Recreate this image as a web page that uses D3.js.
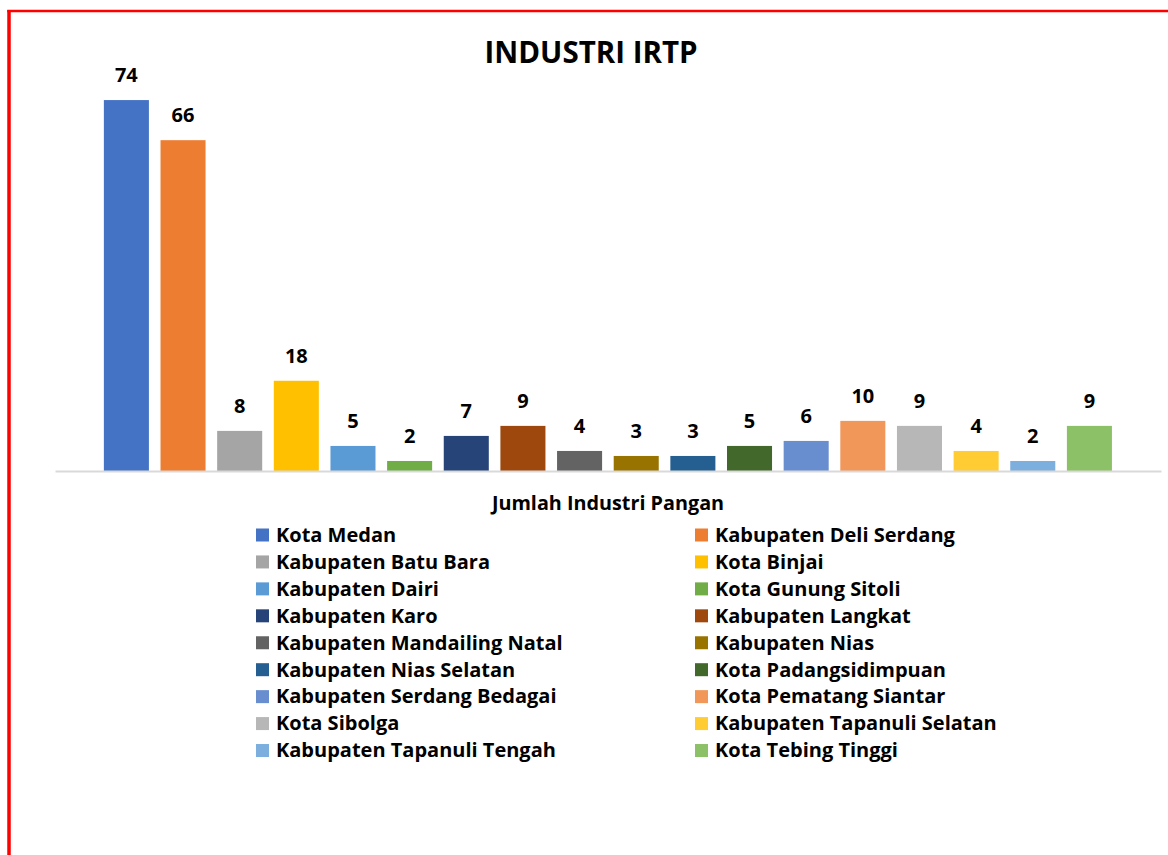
<!DOCTYPE html>
<html>
<head>
<meta charset="utf-8">
<script src="https://cdn.jsdelivr.net/npm/d3@7"></script>
<style>
  html, body { margin: 0; padding: 0; background: #fff; }
  svg { display: block; }
  text { font-family: "Open Sans", Lato, sans-serif; font-weight: bold; fill: #000; }
</style>
</head>
<body>
<svg id="chart" width="1168" height="855"></svg>
<script>
const categories = ["Jumlah Industri Pangan"];
const seriesNames = [
  "Kota Medan", "Kabupaten Deli Serdang", "Kabupaten Batu Bara", "Kota Binjai",
  "Kabupaten Dairi", "Kota Gunung Sitoli", "Kabupaten Karo", "Kabupaten Langkat",
  "Kabupaten Mandailing Natal", "Kabupaten Nias", "Kabupaten Nias Selatan", "Kota Padangsidimpuan",
  "Kabupaten Serdang Bedagai", "Kota Pematang Siantar", "Kota Sibolga", "Kabupaten Tapanuli Selatan",
  "Kabupaten Tapanuli Tengah", "Kota Tebing Tinggi"
];
const seriesValues = [74, 66, 8, 18, 5, 2, 7, 9, 4, 3, 3, 5, 6, 10, 9, 4, 2, 9];
const seriesColors = [
  "#4472C4", "#ED7D31", "#A5A5A5", "#FFC000", "#5B9BD5", "#70AD47", "#264478", "#9E480E",
  "#636363", "#997300", "#255E91", "#43682B", "#698ED0", "#F1975A", "#B7B7B7", "#FFCD33",
  "#7CAFDD", "#8CC168"
];
const chartTitle = "INDUSTRI IRTP";

const svg = d3.select("#chart");

// border
svg.append("line").attr("x1", 9).attr("x2", 9).attr("y1", 10).attr("y2", 855)
  .attr("stroke", "#ff0000").attr("stroke-width", 3.5);
svg.append("line").attr("x1", 7.3).attr("x2", 1168).attr("y1", 11).attr("y2", 11)
  .attr("stroke", "#ff0000").attr("stroke-width", 2.5);

// title
svg.append("text").attr("x", 591).attr("y", 63).attr("text-anchor", "middle")
  .style("font-size", "29.5px").text(chartTitle);

const x0 = d3.scaleBand().domain(categories).range([55, 1161]);
const x1 = d3.scaleBand().domain(seriesNames).range([98.2, 1117.6]).paddingInner(0.205).paddingOuter(0.1);
const y = d3.scaleLinear().domain([0, 80]).range([471, 70]);

const data = seriesNames.map((n, i) => ({ name: n, value: seriesValues[i], color: seriesColors[i] }));

svg.selectAll("rect.bar").data(data).enter().append("rect")
  .attr("class", "bar")
  .attr("x", d => x1(d.name))
  .attr("width", x1.bandwidth())
  .attr("y", d => y(d.value))
  .attr("height", d => y(0) - y(d.value))
  .attr("fill", d => d.color);

svg.selectAll("text.val").data(data).enter().append("text")
  .attr("class", "val")
  .attr("x", d => x1(d.name) + x1.bandwidth() / 2)
  .attr("y", d => y(d.value) - 18)
  .attr("text-anchor", "middle")
  .style("font-size", "20px")
  .text(d => d.value);

// category axis
const xAxis = svg.append("g").attr("transform", `translate(0,${y(0)})`)
  .call(d3.axisBottom(x0).tickSize(0).tickFormat(""));
xAxis.select(".domain").attr("stroke", "#d9d9d9").attr("stroke-width", 2);
xAxis.selectAll(".tick").remove();

svg.append("text").attr("x", x0(categories[0]) + x0.bandwidth() / 2).attr("y", 510)
  .attr("text-anchor", "middle").style("font-size", "19.8px").text(categories[0]);

// legend
const legend = svg.append("g");
data.forEach((d, i) => {
  const col = i % 2, row = Math.floor(i / 2);
  const sx = col === 0 ? 256 : 695;
  const cy = 535 + row * 26.94;
  legend.append("rect").attr("x", sx).attr("y", cy - 6.5).attr("width", 13).attr("height", 13).attr("fill", d.color);
  legend.append("text").attr("x", sx + 20).attr("y", cy + 6.8).style("font-size", "20px").text(d.name);
});
</script>
</body>
</html>
